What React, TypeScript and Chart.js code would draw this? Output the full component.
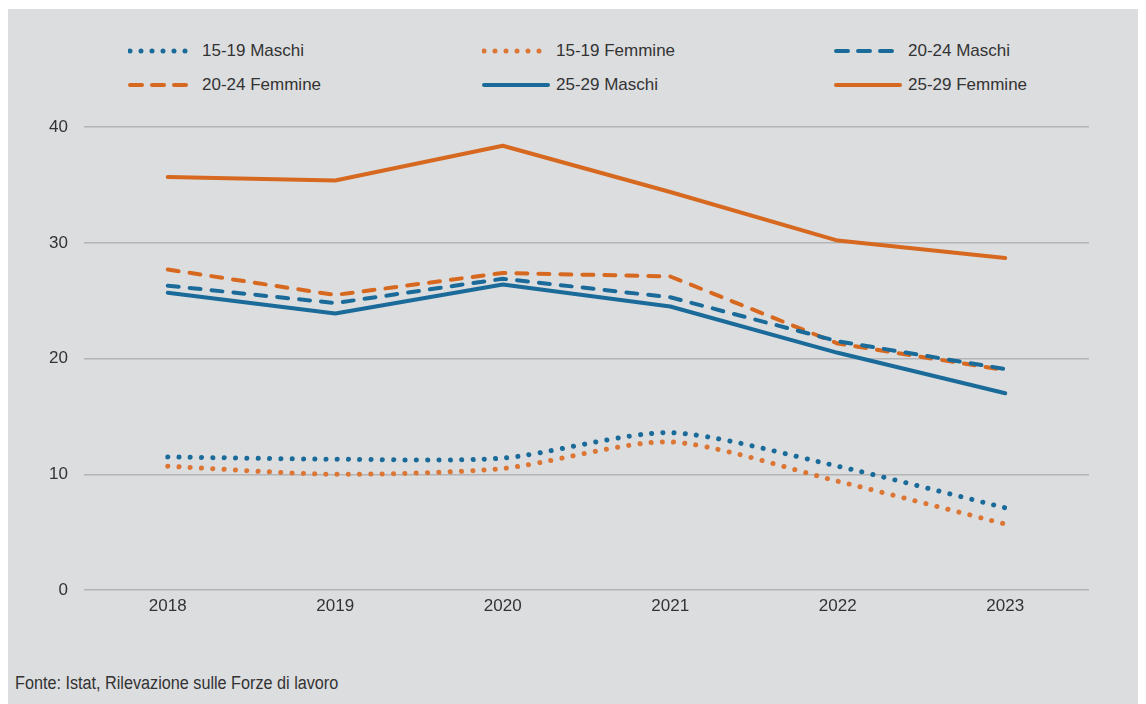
import React, { useEffect, useRef } from "react";
import { Chart, registerables } from "chart.js";

Chart.register(...registerables);

const years = ["2018", "2019", "2020", "2021", "2022", "2023"];
const m1519 = [11.5, 11.3, 11.4, 13.6, 10.7, 7.1];
const f1519 = [10.7, 10.0, 10.5, 12.8, 9.4, 5.7];
const m2024 = [26.3, 24.8, 26.9, 25.3, 21.5, 19.1];
const f2024 = [27.7, 25.5, 27.4, 27.1, 21.3, 19.0];
const m2529 = [25.7, 23.9, 26.4, 24.5, 20.5, 17.0];
const f2529 = [35.7, 35.4, 38.4, 34.4, 30.2, 28.7];
const yTicks = [0, 10, 20, 30, 40];
const sourceNote = "Fonte: Istat, Rilevazione sulle Forze di lavoro";

const BLUE = "#1b6b9a";
const ORANGE = "#d6691f";
const ORANGE_DOT = "#dc7635";
const DOT = [0.1, 11.2];
const DASH = [11, 11];
const FONT = "'Liberation Sans', Arial, sans-serif";

const seriesDefs = [
  { label: "15-19 Maschi", data: m1519, color: BLUE, dash: DOT, kind: "dot" },
  { label: "15-19 Femmine", data: f1519, color: ORANGE_DOT, dash: DOT, kind: "dot" },
  { label: "20-24 Maschi", data: m2024, color: BLUE, dash: DASH, kind: "dash" },
  { label: "20-24 Femmine", data: f2024, color: ORANGE, dash: DASH, kind: "dash" },
  { label: "25-29 Maschi", data: m2529, color: BLUE, dash: [], kind: "solid" },
  { label: "25-29 Femmine", data: f2529, color: ORANGE, dash: [], kind: "solid" },
];

function LegendLine({ color, kind }: { color: string; kind: string }) {
  const dash = kind === "dot" ? "0 11" : kind === "dash" ? "12 10" : undefined;
  const x2 = kind === "solid" ? 66 : 58;
  return (
    <svg width={72} height={10} style={{ display: "block" }}>
      <line
        x1={2}
        y1={5}
        x2={x2}
        y2={5}
        stroke={color}
        strokeWidth={kind === "dot" ? 5 : 4}
        strokeLinecap="round"
        strokeDasharray={dash}
      />
    </svg>
  );
}

export default function App() {
  const ref = useRef<HTMLCanvasElement | null>(null);

  useEffect(() => {
    if (!ref.current) return;
    const chart = new Chart(ref.current, {
      type: "line",
      data: {
        labels: years,
        datasets: seriesDefs.map((s) => ({
          label: s.label,
          data: s.data,
          borderColor: s.color,
          backgroundColor: s.color,
          borderWidth: s.kind === "dot" ? 5 : 4,
          borderDash: s.dash,
          borderCapStyle: "round" as const,
          borderJoinStyle: "round" as const,
          pointRadius: 0,
          tension: s.kind === "dot" ? 0.25 : 0,
          fill: false,
        })),
      },
      options: {
        animation: false,
        responsive: false,
        maintainAspectRatio: false,
        layout: { padding: { top: 10, right: 57, left: 0, bottom: 0 } },
        plugins: { legend: { display: false }, tooltip: { enabled: false } },
        scales: {
          x: {
            offset: true,
            grid: { display: false, drawTicks: false },
            border: { display: false },
            ticks: { color: "#333", font: { family: FONT, size: 17 }, padding: 6 },
            afterFit: (scale: any) => {
              scale.height = 40;
            },
          },
          y: {
            min: 0,
            max: 40,
            afterBuildTicks: (scale: any) => {
              scale.ticks = yTicks.map((v) => ({ value: v }));
            },
            grid: { color: "#b3b4b6", lineWidth: 1.6, drawTicks: false },
            border: { display: false },
            ticks: { color: "#333", font: { family: FONT, size: 17 }, padding: 16 },
            afterFit: (scale: any) => {
              scale.width = 76;
            },
          },
        },
      },
    });
    return () => chart.destroy();
  }, []);

  const cols = [120, 474, 826];
  const rows = [42, 76];

  return (
    <div
      style={{
        position: "relative",
        width: 1138,
        height: 696,
        marginTop: 1,
        background: "#dcdddf",
        fontFamily: FONT,
        overflow: "hidden",
      }}
    >
      {seriesDefs.map((s, i) => {
        const left = cols[i % 3];
        const top = rows[Math.floor(i / 3)];
        return (
          <div
            key={s.label}
            style={{
              position: "absolute",
              left,
              top: top - 11,
              height: 22,
              display: "flex",
              alignItems: "center",
              whiteSpace: "nowrap",
            }}
          >
            <LegendLine color={s.color} kind={s.kind} />
            <span style={{ fontSize: 17, color: "#333", marginLeft: 2 }}>{s.label}</span>
          </div>
        );
      })}
      <canvas
        ref={ref}
        width={1138}
        height={529}
        style={{ position: "absolute", left: 0, top: 92, width: 1138, height: 529 }}
      />
      <div
        style={{
          position: "absolute",
          left: 7,
          top: 664,
          fontFamily: FONT,
          fontSize: 18,
          color: "#333",
          whiteSpace: "nowrap",
          transform: "scaleX(0.9)",
          transformOrigin: "left center",
        }}
      >
        {sourceNote}
      </div>
    </div>
  );
}
